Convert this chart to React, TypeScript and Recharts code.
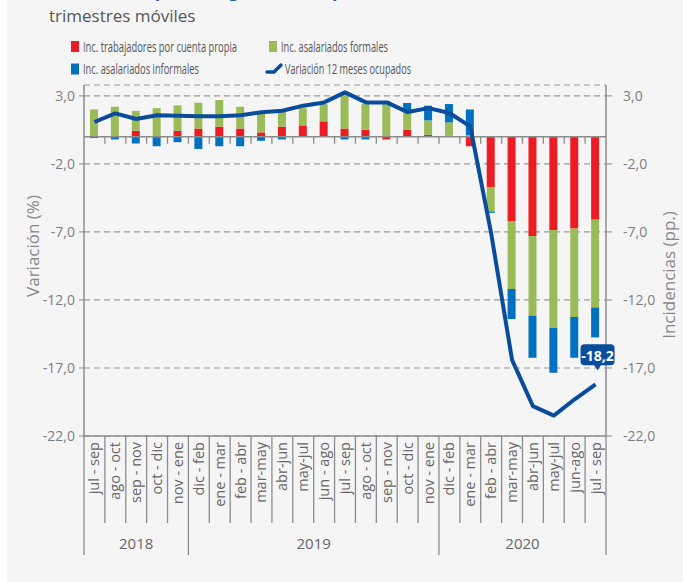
import { ComposedChart, Bar, Line, XAxis, YAxis, CartesianGrid, ReferenceLine } from "recharts";

const categories = [
  "jul - sep", "ago - oct", "sep - nov", "oct - dic", "nov - ene",
  "dic - feb", "ene - mar", "feb - abr", "mar-may", "abr-jun", "may-jul", "jun - ago",
  "jul - sep", "ago - oct", "sep - nov", "oct - dic", "nov - ene",
  "dic - feb", "ene - mar", "feb - abr", "mar-may", "abr-jun", "may-jul", "jun-ago", "jul - sep",
];
const years = ["2018", "2019", "2020"];
const yearStarts = [0, 5, 17];

// incidencias (pp.)
const cuentaPropia = [
  0, 0, 0.44, -0.1, 0.44, 0.6, 0.74, 0.6, 0.32, 0.74, 0.83, 1.13, 0.6, 0.51, -0.2,
  0.51, 0.15, 0.07, -0.7, -3.7, -6.2, -7.3, -6.85, -6.75, -6.1,
];
const formales = [
  2.0, 2.2, 1.46, 2.1, 1.86, 1.9, 1.96, 1.6, 1.48, 1.12, 1.27, 1.27, 2.5, 1.89, 2.5,
  1.3, 1.05, 0.98, 0.1, -1.8, -5.0, -5.85, -7.2, -6.5, -6.45,
];
const informales = [
  -0.1, -0.2, -0.5, -0.6, -0.4, -0.9, -0.7, -0.7, -0.3, -0.2, 0, 0, -0.2, -0.2, 0.1,
  0.67, 1.08, 1.35, 1.9, -0.1, -2.2, -3.1, -3.3, -3.0, -2.2,
];
// variación 12 meses ocupados (%)
const variacion = [
  1.08, 1.71, 1.3, 1.57, 1.54, 1.5, 1.5, 1.57, 1.8, 1.91, 2.28, 2.52, 3.26, 2.52, 2.52,
  1.81, 2.1, 1.74, 0.76, -7.1, -16.4, -19.8, -20.5, -19.3, -18.2,
];
const yTicks = [3, -2, -7, -12, -17, -22];

const legendItems = [
  { label: "Inc. trabajadores por cuenta propia", color: "#ed1c24", kind: "bar", x: 71, y: 46.5, w: 154 },
  { label: "Inc. asalariados formales", color: "#9bbb59", kind: "bar", x: 269, y: 46.5, w: 107 },
  { label: "Inc. asalariados informales", color: "#0070c0", kind: "bar", x: 71, y: 69, w: 116 },
  { label: "Variación 12 meses ocupados", color: "#0a4c9c", kind: "line", x: 267, y: 69, w: 126 },
];

const data = categories.map((name, i) => ({
  name,
  cp: cuentaPropia[i],
  form: formales[i],
  inf: informales[i],
  var: variacion[i],
}));

const RED = "#ed1c24";
const GREEN = "#9bbb59";
const BLUE = "#0070c0";
const LINE = "#0a4c9c";
const GREY = "#8c8c8c";
const TEXT = "#7f7f7f";
const FONT = "'Open Sans', sans-serif";

const PLOT_W = 522;
const AXIS_Y = 436;
const band = PLOT_W / categories.length;

const fmt = (v: number) => v.toFixed(1).replace(".", ",");

function CategoryTick(props: any) {
  const { x, payload, index } = props;
  const left = x - band / 2;
  const isYearStart = yearStarts.includes(index);
  const last = index === categories.length - 1;
  const yi = yearStarts.indexOf(index);
  let yearLabel = null;
  if (yi >= 0) {
    const end = yi + 1 < yearStarts.length ? yearStarts[yi + 1] : categories.length;
    const cx = left + ((end - index) * band) / 2;
    yearLabel = (
      <text x={cx} y={545} textAnchor="middle" dominantBaseline="middle" fontSize={15} fill="#666" fontFamily={FONT}>
        {years[yi]}
      </text>
    );
  }
  return (
    <g>
      <line x1={left} y1={AXIS_Y} x2={left} y2={isYearStart ? 555 : 523} stroke={GREY} strokeWidth={1.3} />
      {last && <line x1={left + band} y1={AXIS_Y} x2={left + band} y2={555} stroke={GREY} strokeWidth={1.3} />}
      <text
        x={x + 5}
        y={AXIS_Y + 6}
        transform={`rotate(-90 ${x + 5} ${AXIS_Y + 6})`}
        textAnchor="end"
        fontSize={14.5}
        fill="#666"
        fontFamily={FONT}
      >
        {payload.value}
      </text>
      {yearLabel}
    </g>
  );
}

function ZeroLine(props: any) {
  const { x1, y1, x2 } = props;
  const ticks = [];
  for (let i = 1; i < categories.length; i++) {
    const tx = x1 + i * band;
    ticks.push(<line key={i} x1={tx} y1={y1} x2={tx} y2={y1 + 7} stroke={GREY} strokeWidth={1.3} />);
  }
  return (
    <g>
      <line x1={x1} y1={y1} x2={x2} y2={y1} stroke={GREY} strokeWidth={1.5} />
      {ticks}
    </g>
  );
}

function LastLabel(props: any) {
  const { x, y, index, value } = props;
  if (index !== categories.length - 1) return null;
  const cx = x + 2;
  const bottom = y - 19;
  return (
    <g>
      <rect x={cx - 17} y={bottom - 21} width={34} height={21} rx={4} fill={LINE} />
      <path d={`M${cx - 4},${bottom - 1} L${cx + 4},${bottom - 1} L${cx},${bottom + 5} Z`} fill={LINE} />
      <text x={cx} y={bottom - 10} textAnchor="middle" dominantBaseline="central" fontSize={14} fontWeight={700} fill="#fff" fontFamily={FONT}>
        {fmt(value)}
      </text>
    </g>
  );
}

// condensed legend text: squeeze Open Sans horizontally
const SQUEEZE = 0.64;

function Legend() {
  return (
    <svg width={683} height={90} style={{ position: "absolute", left: 0, top: 0 }}>
      <text x={49} y={-3} fontSize={18} fontWeight={700} fill="#1f5fa8" fontFamily={FONT}>
        Incidencias por categoría, total país
      </text>
      <text x={49} y={15} fontSize={17} fill="#555" fontFamily={FONT} dominantBaseline="central">
        trimestres móviles
      </text>
      {legendItems.map((it) => (
        <g key={it.label}>
          {it.kind === "bar" ? (
            <rect x={it.x} y={it.y - 5.5} width={8} height={11} fill={it.color} />
          ) : (
            <path
              d={`M${it.x},${it.y + 3} L${it.x + 7},${it.y + 3} L${it.x + 14},${it.y - 4}`}
              stroke={it.color}
              strokeWidth={3.5}
              fill="none"
              strokeLinecap="round"
            />
          )}
          <g transform={`translate(${it.x + (it.kind === "bar" ? 12 : 18)} ${it.y}) scale(${SQUEEZE} 1)`}>
            <text
              x={0}
              y={0}
              fontSize={15}
              fill="#555"
              fontFamily={FONT}
              dominantBaseline="central"
              textLength={it.w / SQUEEZE}
              lengthAdjust="spacingAndGlyphs"
            >
              {it.label}
            </text>
          </g>
        </g>
      ))}
    </svg>
  );
}

export default function App() {
  return (
    <div style={{ position: "absolute", left: 0, top: 0, width: 683, height: 582, background: "#fff", overflow: "hidden" }}>
      <div style={{ position: "absolute", left: 7, top: 0, width: 676, height: 582, background: "#f5f5f5" }} />
      <div style={{ position: "absolute", left: 0, top: 0 }}>
        <ComposedChart
          width={683}
          height={582}
          data={data}
          stackOffset="sign"
          margin={{ top: 85, right: 0, bottom: 0, left: 0 }}
          barCategoryGap={0}
        >
          <CartesianGrid yAxisId="l" vertical={false} stroke="#9a9a9a" strokeDasharray="6 4" strokeWidth={1.2} />
          <XAxis
            dataKey="name"
            height={146}
            interval={0}
            tickLine={false}
            tickSize={0}
            tickMargin={0}
            tick={<CategoryTick />}
            axisLine={{ stroke: GREY, strokeWidth: 1.5 }}
          />
          <YAxis
            yAxisId="l"
            orientation="left"
            width={84}
            domain={[-22, 3.8]}
            ticks={yTicks}
            allowDataOverflow
            tickFormatter={fmt}
            tickSize={5}
            tickMargin={4}
            tick={{ fontSize: 14, fill: TEXT, fontFamily: FONT }}
            axisLine={{ stroke: GREY, strokeWidth: 1.5 }}
            tickLine={{ stroke: GREY }}
          />
          <YAxis
            yAxisId="r"
            orientation="right"
            width={77}
            domain={[-22, 3.8]}
            ticks={yTicks}
            allowDataOverflow
            tickFormatter={fmt}
            tickSize={6}
            tickMargin={11}
            tick={{ fontSize: 14, fill: TEXT, fontFamily: FONT }}
            axisLine={{ stroke: GREY, strokeWidth: 1.5 }}
            tickLine={{ stroke: GREY }}
          />
          <Bar yAxisId="l" dataKey="cp" stackId="a" fill={RED} barSize={8} isAnimationActive={false} />
          <Bar yAxisId="l" dataKey="form" stackId="a" fill={GREEN} barSize={8} isAnimationActive={false} />
          <Bar yAxisId="l" dataKey="inf" stackId="a" fill={BLUE} barSize={8} isAnimationActive={false} />
          <ReferenceLine yAxisId="l" y={0} shape={<ZeroLine />} />
          <Line
            yAxisId="l"
            dataKey="var"
            type="linear"
            stroke={LINE}
            strokeWidth={4}
            dot={false}
            strokeLinejoin="round"
            isAnimationActive={false}
            label={<LastLabel />}
          />
        </ComposedChart>
      </div>
      <Legend />
      <div
        style={{
          position: "absolute", left: 32, top: 246, transform: "translate(-50%, -50%) rotate(-90deg)",
          fontSize: 17, color: "#888", fontFamily: FONT, whiteSpace: "nowrap",
        }}
      >
        Variación (%)
      </div>
      <div
        style={{
          position: "absolute", left: 668, top: 275, transform: "translate(-50%, -50%) rotate(-90deg)",
          fontSize: 17, color: "#888", fontFamily: FONT, whiteSpace: "nowrap",
        }}
      >
        Incidencias (pp.)
      </div>
    </div>
  );
}
